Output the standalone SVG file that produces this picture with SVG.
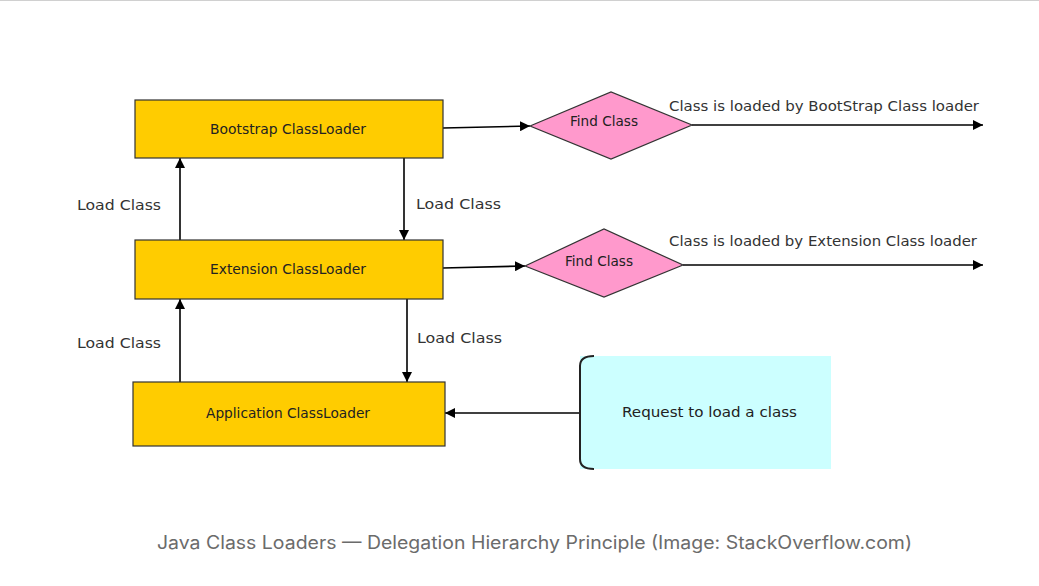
<svg xmlns="http://www.w3.org/2000/svg" width="1039" height="586" viewBox="0 0 1039 586">
<defs>
<marker id="ah" viewBox="0 0 10 10" refX="10" refY="5" markerWidth="10" markerHeight="10" markerUnits="userSpaceOnUse" orient="auto">
<path d="M0,0 L10,5 L0,10 z" fill="#000"/>
</marker>
</defs>
<style>
.box{fill:#FFCC00;stroke:#333;stroke-width:1.2}
.dia{fill:#FF99CC;stroke:#333;stroke-width:1.2}
.t{font-family:"DejaVu Sans",Verdana,sans-serif;font-size:14px;fill:#222}
.lbl{font-family:"DejaVu Sans",Verdana,sans-serif;font-size:14px;fill:#333}
.ln{stroke:#000;stroke-width:1.6;fill:none;marker-end:url(#ah)}
.cap{font-family:Inter,"Liberation Sans",sans-serif;font-size:18px;fill:#6b6b6b}
</style>
<rect x="0" y="0" width="1039" height="586" fill="#fff"/>
<line x1="0" y1="0.5" x2="1039" y2="0.5" stroke="#d0d0d0" stroke-width="1"/>
<g id="connectors">
<line class="ln" x1="443" y1="128" x2="530" y2="126"/>
<line class="ln" x1="692" y1="125" x2="983" y2="125"/>
<line class="ln" x1="443" y1="268" x2="525" y2="266"/>
<line class="ln" x1="683" y1="265" x2="983" y2="265"/>
<line class="ln" x1="180" y1="240" x2="180" y2="158"/>
<line class="ln" x1="404" y1="158" x2="404" y2="240"/>
<line class="ln" x1="180" y1="382" x2="180" y2="299"/>
<line class="ln" x1="407" y1="299" x2="407" y2="382"/>
<line class="ln" x1="580" y1="413" x2="445" y2="413"/>
<text class="lbl" x="77" y="210" textLength="84" lengthAdjust="spacingAndGlyphs">Load Class</text>
<text class="lbl" x="416" y="209" textLength="85" lengthAdjust="spacingAndGlyphs">Load Class</text>
<text class="lbl" x="77" y="348" textLength="84" lengthAdjust="spacingAndGlyphs">Load Class</text>
<text class="lbl" x="417" y="343" textLength="85" lengthAdjust="spacingAndGlyphs">Load Class</text>
<text class="lbl" x="669" y="111" textLength="310" lengthAdjust="spacingAndGlyphs">Class is loaded by BootStrap Class loader</text>
<text class="lbl" x="669" y="246" textLength="308" lengthAdjust="spacingAndGlyphs">Class is loaded by Extension Class loader</text>
</g>
<g id="bootstrap">
<rect class="box" x="135" y="100" width="308" height="58"/>
<text class="t" x="210" y="134" textLength="156" lengthAdjust="spacingAndGlyphs">Bootstrap ClassLoader</text>
</g>
<g id="extension">
<rect class="box" x="135" y="240" width="308" height="59"/>
<text class="t" x="210" y="274" textLength="156" lengthAdjust="spacingAndGlyphs">Extension ClassLoader</text>
</g>
<g id="application">
<rect class="box" x="133" y="382" width="312" height="64"/>
<text class="t" x="206" y="418" textLength="164" lengthAdjust="spacingAndGlyphs">Application ClassLoader</text>
</g>
<g id="find1">
<polygon class="dia" points="530,126 611,92 692,125 611,159"/>
<text class="t" x="570" y="126" textLength="68" lengthAdjust="spacingAndGlyphs">Find Class</text>
</g>
<g id="find2">
<polygon class="dia" points="525,266 604,229 683,265 604,297"/>
<text class="t" x="565" y="266" textLength="68" lengthAdjust="spacingAndGlyphs">Find Class</text>
</g>
<g id="request">
<rect x="580" y="356" width="251" height="113" fill="#CCFFFF"/>
<path d="M594,356 Q580,356 580,366 L580,459 Q580,469 594,469" fill="none" stroke="#222" stroke-width="2"/>
<text class="t" x="622" y="417" textLength="175" lengthAdjust="spacingAndGlyphs">Request to load a class</text>
</g>
<text class="cap" x="157" y="549" textLength="755" lengthAdjust="spacingAndGlyphs">Java Class Loaders — Delegation Hierarchy Principle (Image: StackOverflow.com)</text>
</svg>
